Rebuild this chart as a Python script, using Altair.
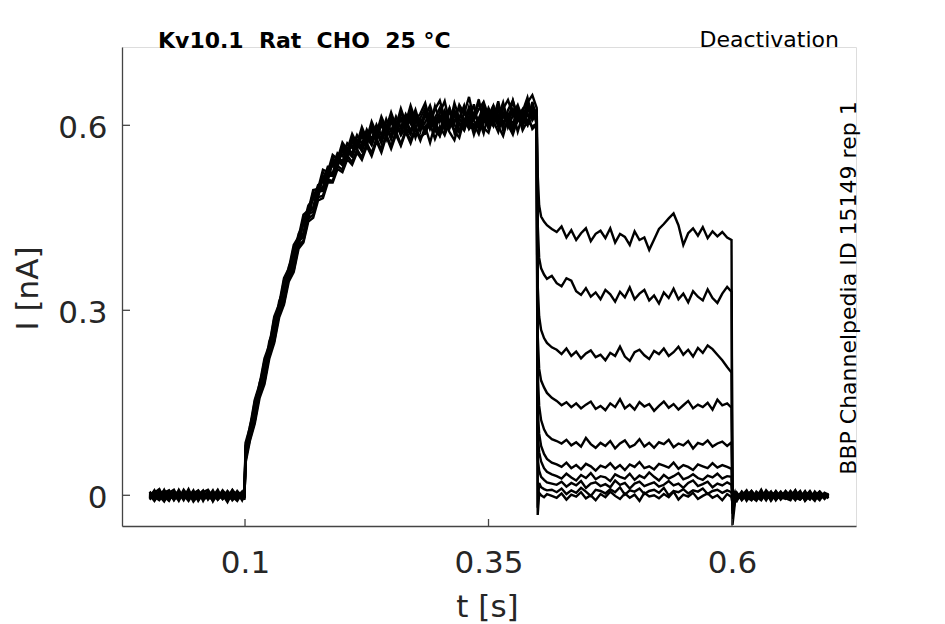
import altair as alt
import pandas as pd

# ---- sample times (s) of each protocol segment ----
T_BASE = [round(0.002 + 0.005 * i, 4) for i in range(20)] + [0.0995]
T_ACT = [0.1005] + [round(0.105 + 0.005 * i, 4) for i in range(59)] + [0.3995]
T_DEACT = [0.4005, 0.402, 0.404, 0.407, 0.41, 0.415] + [round(0.42 + 0.005 * i, 4) for i in range(36)] + [0.5995]
T_TAIL = [0.6005, 0.603] + [round(0.605 + 0.005 * i, 4) for i in range(19)] + [0.699]

# ---- currents, in pA, one row per sweep ----
BASE_PA = [
    [3, -6, 8, -2, -9, 5, 1, -4, 10, -7, 2, -3, 7, -10, 4, -1, 6, -8, 0, 5, -4],
    [-5, 7, -1, -10, 4, 9, -6, 2, -3, 8, -9, 3, -2, 6, -7, 1, -11, 5, 3, -6, 2],
    [6, -3, -8, 4, 2, -7, 9, -5, 1, -2, 7, -9, 5, 0, -4, 8, -3, -6, 4, 1, -7],
    [-2, 4, 10, -6, -1, 3, -9, 6, -4, 2, -8, 5, 9, -3, 1, -6, 7, -2, -9, 3, 6],
    [1, -9, 3, 7, -5, -2, 4, -8, 6, -1, 3, -6, -3, 8, -7, 2, -4, 9, -1, -5, 0],
    [-7, 2, -4, 5, 8, -3, -6, 1, -9, 4, 6, -2, 0, -8, 5, -3, 2, -5, 7, -2, 4],
    [4, -1, 6, -8, 3, 0, -5, 9, -2, -6, 1, 8, -7, 3, -1, 5, -9, 2, -4, 6, -3],
    [-3, 8, -7, 1, -4, 6, 2, -3, 5, -10, 0, 4, -5, -2, 9, -6, 1, -3, 5, -8, 2],
    [5, -4, 2, -5, 7, -8, 3, 0, -6, 6, -4, 1, 3, -7, -2, 4, -5, 8, -6, 0, -2],
    [-1, 3, -5, 9, -7, 2, -2, 5, -7, 3, 8, -5, -1, 2, -6, 7, 0, -4, 2, -3, 5],
]

ACT_PA = [
    [80, 104, 152, 176, 218, 240, 286, 305, 348, 362,
     402, 413, 450, 458, 491, 492, 523, 519, 546, 541,
     567, 555, 581, 566, 592, 572, 601, 583, 609, 590,
     615, 592, 622, 598, 626, 603, 612, 628, 597, 631,
     606, 624, 600, 636, 611, 598, 630, 615, 642, 604,
     628, 611, 639, 598, 625, 640, 607, 622, 645, 612,
     626],
    [55, 98, 121, 170, 186, 232, 255, 298, 316, 357,
     370, 412, 419, 456, 460, 492, 494, 520, 518, 543,
     535, 557, 549, 571, 558, 581, 568, 590, 571, 598,
     577, 603, 584, 596, 610, 580, 604, 589, 615, 592,
     583, 612, 598, 620, 589, 606, 625, 594, 611, 587,
     619, 600, 628, 592, 608, 623, 590, 617, 604, 631,
     600],
    [72, 96, 147, 165, 212, 229, 280, 294, 343, 351,
     398, 404, 445, 449, 487, 483, 518, 510, 543, 532,
     562, 549, 575, 560, 587, 567, 596, 575, 604, 578,
     609, 584, 612, 590, 619, 595, 611, 585, 623, 600,
     616, 592, 627, 601, 589, 622, 608, 634, 596, 618,
     604, 632, 598, 621, 609, 590, 629, 615, 601, 638,
     611],
    [64, 106, 128, 178, 193, 243, 262, 308, 322, 366,
     378, 418, 425, 463, 467, 498, 499, 527, 522, 549,
     541, 563, 555, 576, 564, 585, 572, 592, 578, 600,
     582, 606, 588, 611, 590, 617, 593, 605, 622, 591,
     614, 598, 626, 588, 612, 630, 596, 619, 603, 627,
     595, 620, 609, 633, 597, 616, 624, 602, 630, 608,
     619],
    [52, 88, 116, 158, 180, 222, 247, 288, 309, 347,
     362, 400, 410, 444, 450, 478, 482, 507, 507, 529,
     524, 545, 536, 556, 544, 566, 550, 574, 556, 582,
     562, 585, 567, 589, 571, 594, 575, 598, 572, 601,
     583, 607, 589, 576, 603, 592, 614, 585, 609, 596,
     588, 617, 599, 583, 611, 604, 620, 592, 607, 598,
     603],
    [76, 112, 141, 183, 206, 250, 271, 314, 335, 371,
     390, 424, 439, 470, 480, 503, 508, 533, 533, 555,
     550, 571, 563, 584, 570, 593, 577, 601, 584, 610,
     590, 614, 596, 618, 603, 625, 599, 615, 632, 606,
     620, 639, 604, 617, 628, 601, 624, 612, 637, 609,
     625, 603, 631, 618, 607, 640, 614, 626, 603, 622,
     617],
    [60, 102, 125, 175, 190, 240, 258, 304, 319, 363,
     374, 416, 422, 461, 464, 496, 497, 524, 519, 546,
     538, 560, 552, 573, 560, 583, 569, 591, 574, 598,
     580, 604, 586, 609, 587, 612, 590, 619, 595, 604,
     590, 618, 597, 623, 603, 592, 626, 608, 595, 621,
     610, 599, 627, 604, 618, 595, 624, 611, 600, 629,
     605],
    [85, 110, 155, 180, 222, 244, 290, 310, 352, 368,
     406, 419, 455, 462, 495, 497, 528, 524, 552, 545,
     572, 560, 586, 570, 597, 578, 606, 587, 614, 595,
     621, 598, 627, 604, 632, 608, 619, 636, 605, 626,
     640, 612, 628, 604, 633, 619, 646, 610, 626, 638,
     615, 632, 607, 627, 641, 618, 633, 610, 637, 649,
     628],
    [58, 91, 120, 164, 184, 229, 250, 294, 312, 353,
     365, 405, 413, 449, 455, 483, 486, 512, 510, 534,
     528, 551, 540, 561, 548, 571, 555, 579, 560, 585,
     566, 590, 569, 593, 575, 597, 580, 588, 603, 578,
     598, 584, 606, 591, 580, 610, 594, 602, 586, 613,
     596, 607, 589, 616, 601, 585, 611, 598, 620, 594,
     601],
    [70, 99, 144, 168, 209, 236, 277, 299, 340, 356,
     395, 408, 443, 453, 484, 487, 515, 514, 540, 537,
     559, 552, 573, 564, 583, 573, 591, 581, 600, 587,
     606, 590, 611, 596, 585, 616, 600, 623, 594, 612,
     628, 603, 596, 624, 610, 632, 599, 618, 609, 635,
     602, 623, 614, 637, 605, 626, 616, 600, 634, 619,
     621],
]

DEACT_PA = [
    [520, 470, 452, 444, 438, 432,
     427, 436, 418, 430, 414, 425, 433, 412, 424, 429,
     417, 433, 410, 424, 419, 406, 428, 414, 418, 398,
     415, 432, 440, 449, 457, 438, 406, 425, 433, 421,
     435, 417, 428, 420, 427, 418,
     414],
    [440, 385, 368, 358, 351, 356,
     344, 339, 352, 348, 331, 325, 336, 322, 329, 318,
     333, 326, 314, 330, 321, 337, 318, 327, 333, 316,
     324, 311, 329, 320, 335, 318, 327, 313, 331, 322,
     316, 334, 320, 312, 327, 338,
     330],
    [340, 290, 268, 255, 247, 240,
     236, 229, 238, 226, 233, 222, 230, 235, 224, 228,
     219, 231, 226, 241, 225, 218, 232, 236, 227, 221,
     234, 229, 238, 226, 232, 241, 228, 236, 225, 239,
     231, 243, 237, 228, 219, 208,
     199],
    [260, 205, 186, 175, 166, 158,
     153, 146, 151, 143, 149, 141, 147, 152, 140, 145,
     138, 149, 143, 156, 141, 147, 139, 151, 144, 148,
     137, 145, 152, 142, 148, 139, 146, 153, 141, 147,
     143, 150, 139, 155, 146, 149,
     142],
    [200, 145, 122, 107, 98, 91,
     88, 84, 90, 81, 86, 79, 93, 83, 77, 85,
     80, 88, 76, 84, 89, 78, 82, 91, 79, 85,
     77, 86, 83, 90, 78, 84, 81, 88, 76, 85,
     82, 89, 79, 84, 87, 80,
     86],
    [140, 100, 80, 67, 59, 53,
     50, 46, 53, 44, 49, 42, 51, 47, 40, 48,
     45, 52, 43, 49, 41, 50, 46, 54, 44, 47,
     42, 51, 48, 45, 53, 43, 49, 46, 41, 50,
     47, 44, 52, 45, 49, 46,
     43],
    [100, 70, 55, 44, 38, 34,
     31, 27, 35, 29, 24, 33, 28, 36, 26, 31,
     29, 23, 34, 30, 27, 35, 25, 32, 28, 37,
     30, 24, 33, 27, 31, 36, 26, 29, 34, 28,
     25, 32, 29, 35, 27, 31,
     30],
    [60, 40, 30, 25, 21, 19,
     17, 22, 14, 20, 16, 23, 12, 19, 21, 15,
     18, 13, 24, 17, 20, 11, 19, 22, 15, 18,
     21, 14, 17, 23, 16, 19, 12, 20, 24, 15,
     18, 22, 13, 19, 16, 21,
     17],
    [-20, 20, 13, 10, 8, 9,
     5, 11, 2, 8, 4, 12, 6, -1, 9, 7,
     3, 10, 5, 13, 1, 8, 6, 11, 2, 7,
     9, 4, 12, 0, 7, 5, 10, 3, 8, 6,
     11, 2, 7, 9, 4, 8,
     5],
    [-32, 4, 0, -3, 2, -1,
     -4, 3, -7, 1, -2, 5, -5, 0, -8, 2,
     -3, 6, -1, -6, 3, -4, 1, -9, 4, -2,
     0, -5, 2, -3, 6, -7, 1, -2, 4, -6,
     -1, 3, -4, 0, -8, 2,
     -3],
]

TAIL_PA = [
    [-48, -12, -6, 3, -5, 7, -2, -8, 4, -3, 6, -7, 1, -4, 8, -6, 2, -1, -9, 5, -3, 0],
    [-20, -8, 2, -6, 5, -3, -9, 4, 1, -7, 3, -2, 6, -5, -1, 7, -8, 2, -4, 4, -6, 1],
    [-15, -4, -9, 6, -2, -7, 3, -5, 8, -1, -6, 5, -3, 2, -8, 4, -2, 7, -5, -1, 3, -4],
    [-10, 2, -5, -1, 8, -6, 0, -3, 5, -9, 2, -4, 7, -2, -6, 3, -1, -7, 6, -3, 2, -5],
    [-25, -6, 4, -8, 1, 5, -4, 9, -6, 2, -2, 6, -5, -8, 4, -3, 7, -6, 1, -2, -4, 3],
    [-8, 3, -3, 2, -7, 4, -5, 1, -2, 6, -8, 3, -1, 5, -4, -7, 2, 4, -3, 6, -1, -2],
    [-30, -10, 1, -4, 6, -1, -6, 3, -8, 5, 0, -4, 2, -6, 6, -2, -5, 3, -1, -8, 4, 1],
    [-5, 5, -7, 4, -3, -8, 6, -1, 2, -5, 7, -3, -6, 1, -2, 5, -9, 0, 3, -4, 1, -3],
    [-18, -2, 3, -6, 0, 7, -4, -2, 5, -7, 1, -5, 4, -3, 8, -6, 2, -4, -1, 6, -5, 2],
    [-12, 1, -2, 5, -9, 2, -3, 6, -5, 3, -7, 0, -4, 7, -2, -5, 3, 1, -6, 2, -2, -1],
]

X_TICKS = [0.1, 0.35, 0.6]
Y_TICKS = [0, 0.3, 0.6]

TITLE = "Kv10.1\u00a0 Rat\u00a0 CHO\u00a0 25 °C"
RIGHT_LABEL = "Deactivation"
SIDE_LABEL = "BBP Channelpedia ID 15149 rep 1"

# ---- build long table ----
rows = []
segments = [(T_BASE, BASE_PA), (T_ACT, ACT_PA), (T_DEACT, DEACT_PA), (T_TAIL, TAIL_PA)]
for k in range(10):
    for times, table in segments:
        vals = table[k]
        if len(vals) != len(times):
            raise ValueError(f"sweep {k}: {len(vals)} values for {len(times)} times")
        for t, v in zip(times, vals):
            rows.append({"t": t, "I": v / 1000.0, "sweep": k})
df = pd.DataFrame(rows)

W, H = 734, 479
FONT = "DejaVu Sans"
INK = "#262626"
AX = "#444444"

x_enc = alt.X(
    "t:Q",
    scale=alt.Scale(domain=[-0.0263, 0.7273], nice=False, zero=False),
    axis=alt.Axis(
        values=X_TICKS, labelExpr="format(datum.value, '.2~f')", title="t [s]",
        grid=False, ticks=False,
        domainColor=AX, domainWidth=1.3, labelFont=FONT, labelFontSize=31,
        labelColor=INK, labelPadding=22, labelFlush=False, labelOverlap=False,
        titleFont=FONT, titleFontSize=31, titleFontWeight="normal", titleColor=INK,
        titleX=365, titleY=90, titleBaseline="alphabetic", titleAlign="center",
    ),
)
y_enc = alt.Y(
    "I:Q",
    scale=alt.Scale(domain=[-0.0498, 0.727], nice=False, zero=False),
    axis=alt.Axis(
        values=Y_TICKS, labelExpr="format(datum.value, '.1~f')", title="I [nA]",
        grid=False, ticks=False,
        domainColor=AX, domainWidth=1.3, labelFont=FONT, labelFontSize=31,
        labelColor=INK, labelPadding=15, labelOffset=3, labelFlush=False, labelOverlap=False,
        titleFont=FONT, titleFontSize=31, titleFontWeight="normal", titleColor=INK,
        titleAngle=270, titleX=-85, titleY=241, titleBaseline="alphabetic", titleAlign="center",
    ),
)

lines = alt.Chart(df).mark_line(color="black", strokeWidth=2.4, strokeJoin="miter").encode(
    x=x_enc, y=y_enc, detail="sweep:N"
)

xticks = alt.Chart(pd.DataFrame({"t": X_TICKS})).mark_rule(color=AX, strokeWidth=1.3).encode(
    x=x_enc, y=alt.value(H), y2=alt.value(H - 7)
)
yticks = alt.Chart(pd.DataFrame({"I": Y_TICKS})).mark_rule(color=AX, strokeWidth=1.3).encode(
    y=y_enc, x=alt.value(0), x2=alt.value(8)
)

title_txt = alt.Chart(pd.DataFrame({"s": [TITLE]})).mark_text(
    font=FONT, fontSize=22, fontWeight="bold", color="black", align="left", baseline="alphabetic"
).encode(x=alt.value(36), y=alt.value(0.5), text="s:N")

right_txt = alt.Chart(pd.DataFrame({"s": [RIGHT_LABEL]})).mark_text(
    font=FONT, fontSize=22, color="black", align="right", baseline="alphabetic"
).encode(x=alt.value(717), y=alt.value(0), text="s:N")

side_txt = alt.Chart(pd.DataFrame({"s": [SIDE_LABEL]})).mark_text(
    font=FONT, fontSize=22, color="black", align="center", baseline="alphabetic", angle=270
).encode(x=alt.value(734), y=alt.value(241), text="s:N")

chart = alt.layer(lines, xticks, yticks, title_txt, right_txt, side_txt).properties(
    width=W, height=H,
    padding={"left": 114, "top": 39, "right": 80, "bottom": 100},
    autosize=alt.AutoSizeParams(type="none"),
    background="white",
).configure_view(stroke=None).configure(font=FONT)

chart.save("out.html", embed_options={"renderer": "svg", "actions": False})
